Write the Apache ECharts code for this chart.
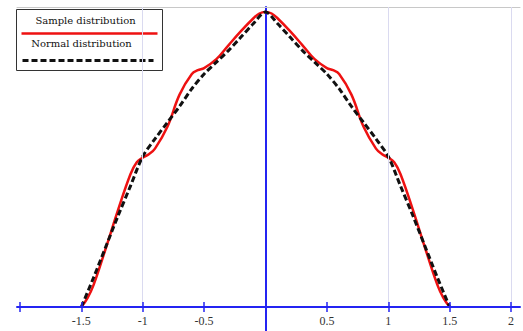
<!DOCTYPE html>
<html>
	<head>
		<meta charset="utf-8" />
		<title></title>
		<style>
			html, body { margin: 0; padding: 0; background: #fff; }
			#chart { width: 523px; height: 331px; }
		</style>
	</head>
	<body>
		<div id="chart"></div>
	</body>
	<script src="https://cdn.jsdelivr.net/npm/echarts@6/dist/echarts.min.js" type="text/javascript" charset="utf-8"></script>
	<script type="text/javascript">
		// x axis ticks / labels
		var xTicks = [-2, -1.5, -1, -0.5, 0, 0.5, 1, 1.5, 2];
		var xLabels = [-1.5, -1, -0.5, 0.5, 1, 1.5, 2];
		var gridX = [-1, 1, 2];

		// sample distribution (red, wavy)
		var sampleX = [-1.5, -1.45, -1.4, -1.3, -1.2, -1.1, -1.05, -1, -0.95, -0.9, -0.8, -0.7, -0.6, -0.55, -0.5, -0.4, -0.3, -0.2, -0.1, -0.05, 0,
			0.05, 0.1, 0.2, 0.3, 0.4, 0.5, 0.55, 0.6, 0.7, 0.8, 0.9, 0.95, 1, 1.05, 1.1, 1.2, 1.3, 1.4, 1.45, 1.5];
		var sampleY = [0, 0.03, 0.075, 0.2, 0.33, 0.45, 0.49, 0.506, 0.518, 0.537, 0.61, 0.72, 0.79, 0.803, 0.81, 0.84, 0.888, 0.935, 0.978, 0.995, 1,
			0.995, 0.978, 0.935, 0.888, 0.84, 0.81, 0.803, 0.79, 0.72, 0.61, 0.537, 0.518, 0.506, 0.49, 0.45, 0.33, 0.2, 0.075, 0.03, 0];

		// normal distribution (black dashed)
		var normalX = [-1.5, -1.4, -1.3, -1.2, -1.1, -1, -0.9, -0.8, -0.7, -0.6, -0.5, -0.4, -0.3, -0.2, -0.1, 0,
			0.1, 0.2, 0.3, 0.4, 0.5, 0.6, 0.7, 0.8, 0.9, 1, 1.1, 1.2, 1.3, 1.4, 1.5];
		var normalY = [0, 0.1, 0.205, 0.31, 0.41, 0.51, 0.57, 0.625, 0.68, 0.74, 0.79, 0.83, 0.87, 0.915, 0.96, 1,
			0.96, 0.915, 0.87, 0.83, 0.79, 0.74, 0.68, 0.625, 0.57, 0.51, 0.41, 0.31, 0.205, 0.1, 0];

		function pairs(xs, ys){
			var out = [];
			for (var i = 0; i < xs.length; i++) {
				out.push([xs[i], ys[i]]);
			}
			return out;
		}

		var blue = '#2424f2';
		var xMin = -2.024, xMax = 2.073;
		var yMax = 1.017;

		var gridLines = [];
		for (var i = 0; i < gridX.length; i++) {
			gridLines.push([{coord: [gridX[i], 0]}, {coord: [gridX[i], yMax]}]);
		}

		var myChart = echarts.init(document.getElementById('chart'), null, {renderer: 'svg'});
		var option = {
			animation: false,
			// grid 0: plot area above the x axis, grid 1: strip below it
			grid: [
				{left: 17, width: 503, top: 7, height: 300},
				{left: 17, width: 503, top: 307, height: 24}
			],
			xAxis: [{
				type: 'value',
				gridIndex: 0,
				min: xMin,
				max: xMax,
				position: 'bottom',
				axisLine: {onZero: false, lineStyle: {color: blue, width: 2}},
				axisTick: {inside: true, length: 5, customValues: xTicks, lineStyle: {color: blue, width: 1.5}},
				axisLabel: {
					customValues: xLabels,
					margin: 8,
					color: '#333',
					fontSize: 12,
					fontFamily: '"Liberation Serif", serif'
				},
				splitLine: {show: false},
				z: 5
			}, {
				type: 'value',
				gridIndex: 0,
				min: xMin,
				max: xMax,
				position: 'top',
				axisLine: {onZero: false, lineStyle: {color: '#c8c8c8', width: 1}},
				axisTick: {show: false},
				axisLabel: {show: false},
				splitLine: {show: false}
			}, {
				type: 'value',
				gridIndex: 1,
				min: xMin,
				max: xMax,
				position: 'top',
				axisLine: {show: false, onZero: false},
				axisTick: {inside: true, length: 5, customValues: xTicks, lineStyle: {color: blue, width: 1.5}},
				axisLabel: {show: false},
				splitLine: {show: false}
			}],
			yAxis: [{
				type: 'value',
				gridIndex: 0,
				min: 0,
				max: yMax,
				axisLine: {onZero: true, lineStyle: {color: blue, width: 2}},
				axisTick: {show: false},
				axisLabel: {show: false},
				splitLine: {show: false}
			}, {
				type: 'value',
				gridIndex: 1,
				min: 0,
				max: 1,
				axisLine: {onZero: true, lineStyle: {color: blue, width: 2}},
				axisTick: {show: false},
				axisLabel: {show: false},
				splitLine: {show: false}
			}],
			series: [{
				name: 'Sample distribution',
				type: 'line',
				xAxisIndex: 0,
				yAxisIndex: 0,
				data: pairs(sampleX, sampleY),
				smooth: 0.4,
				showSymbol: false,
				clip: false,
				lineStyle: {color: '#ee1111', width: 2.5},
				markLine: {
					silent: true,
					symbol: 'none',
					label: {show: false},
					lineStyle: {color: '#dadaf0', width: 1, type: 'solid'},
					data: gridLines
				},
				z: 2
			}, {
				name: 'Normal distribution',
				type: 'line',
				xAxisIndex: 0,
				yAxisIndex: 0,
				data: pairs(normalX, normalY),
				smooth: 0.3,
				showSymbol: false,
				clip: false,
				lineStyle: {color: '#111', width: 3, type: [6, 3]},
				z: 3
			}],
			graphic: [{
				type: 'group',
				left: 16,
				top: 9,
				z: 10,
				children: [
					{type: 'rect', shape: {x: 0, y: 0, width: 146, height: 61}, style: {fill: '#fff', stroke: '#333', lineWidth: 1}},
					{type: 'text', x: 69, y: 11, style: {text: 'Sample distribution', fill: '#111', font: '10px "DejaVu Serif"', align: 'center', verticalAlign: 'middle'}},
					{type: 'line', shape: {x1: 5, y1: 24, x2: 141, y2: 24}, style: {stroke: '#ee1111', lineWidth: 2.5}},
					{type: 'text', x: 65, y: 34, style: {text: 'Normal distribution', fill: '#111', font: '10px "DejaVu Serif"', align: 'center', verticalAlign: 'middle'}},
					{type: 'line', shape: {x1: 6, y1: 51, x2: 137, y2: 51}, style: {stroke: '#111', lineWidth: 3, lineDash: [6, 3]}}
				]
			}]
		};
		myChart.setOption(option);
	</script>
</html>
